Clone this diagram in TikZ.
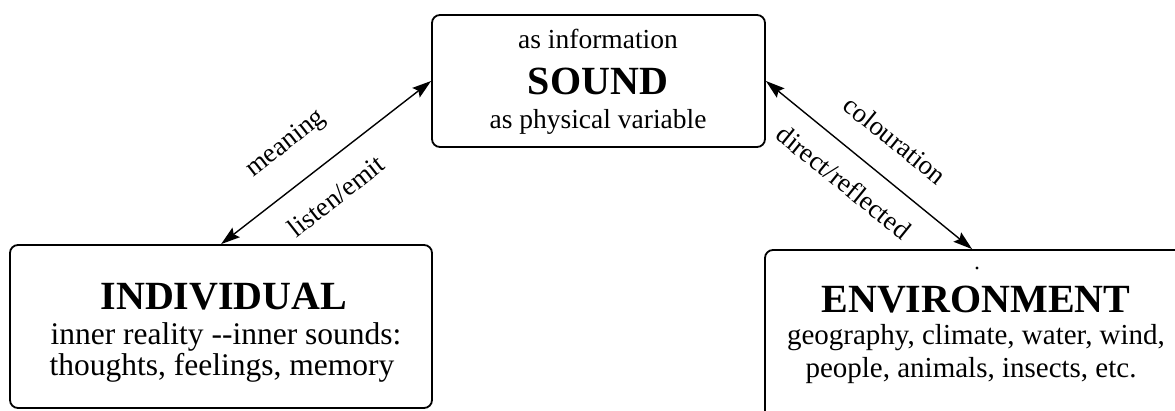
\documentclass[tikz,border=0pt]{standalone}
\usepackage{fontspec}
\setmainfont{Liberation Serif}
\usetikzlibrary{arrows.meta,calc}
\begin{document}
\begin{tikzpicture}[x=1pt,y=-1pt,
  box/.style={draw,line width=1.8pt,rounded corners=8pt,minimum width=#1},
  head/.style={font=\fontsize{40}{44}\selectfont\bfseries,inner sep=0pt,anchor=base},
  small/.style={font=\fontsize{27.5}{33}\selectfont,inner sep=0pt,anchor=base},
  body/.style={font=\fontsize{#1}{36}\selectfont,inner sep=0pt,anchor=base},
  lab/.style={font=\fontsize{27}{32}\selectfont,inner sep=0pt,anchor=center},
  conn/.style={line width=1.4pt,{Stealth[length=19pt,width=12pt,inset=3pt]}-{Stealth[length=19pt,width=12pt,inset=3pt]}}
]
\useasboundingbox (0,0) rectangle (1175,410);
\clip (0,0) rectangle (1175,410);
% boxes
\node[box=333pt,minimum height=132pt] (snd) at (598.5,81) {};
\node[box=422pt,minimum height=163pt] (ind) at (221,326.5) {};
\node[box=440pt,minimum height=190pt] (env) at (985,345) {};
% texts in SOUND
\node[small] (t1) at (598,48) {as information};
\node[head] (t2) at (598,94) {SOUND};
\node[small] (t3) at (598,128) {as physical variable};
% texts in INDIVIDUAL
\node[head] (t4) at (224,309) {INDIVIDUAL};
\node[body=31.5] (t5) at (226,344) {inner reality -{}-inner sounds:};
\node[body=31.5] (t6) at (222,375) {thoughts, feelings, memory};
% texts in ENVIRONMENT
\node[head] (t7) at (976,312) {ENVIRONMENT};
\node[body=29] (t8) at (976,344) {geography, climate, water, wind,};
\node[body=29] (t9) at (971,377) {people, animals, insects, etc.};
\fill (977,268) circle (1.6pt);
% connectors
\coordinate (a1) at ($(ind.north west)+(212,0)$);
\coordinate (a2) at ($(env.north west)+(208,0)$);
\draw[conn] (a1) -- (snd.west);
\draw[conn] (snd.east) -- (a2);
% labels
\node[lab,rotate=38] (l1) at (286,144) {meaning};
\node[lab,rotate=38] (l2) at (336,196) {listen/emit};
\node[lab,rotate=-39] (l3) at (895,140) {colouration};
\node[lab,rotate=-39] (l4) at (844,182) {direct/reflected};
\end{tikzpicture}
\end{document}
